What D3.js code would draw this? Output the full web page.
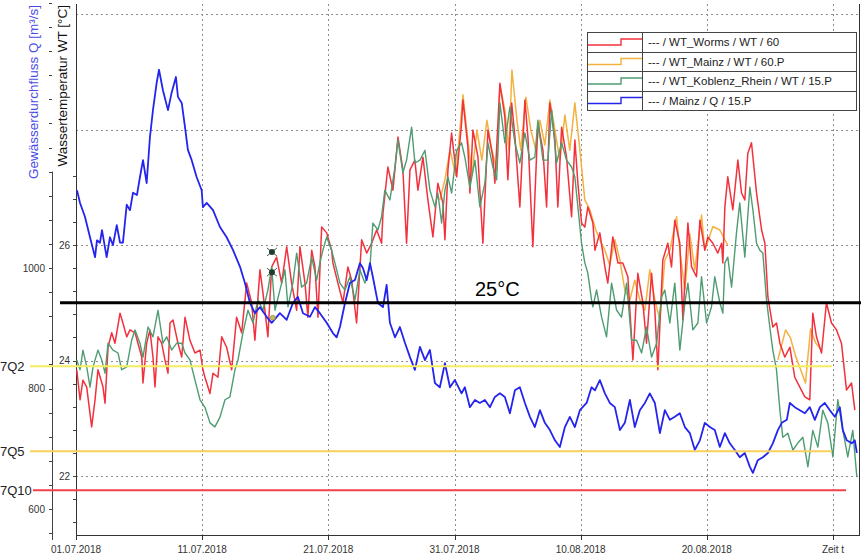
<!DOCTYPE html>
<html>
<head>
<meta charset="utf-8">
<script src="https://cdn.jsdelivr.net/npm/d3@7"></script>
<style>
  html, body { margin: 0; padding: 0; background: #fff; }
  svg { display: block; font-family: Arial, "Liberation Sans", sans-serif; }
</style>
</head>
<body>
<svg id="chart" width="867" height="558"></svg>
<script>
// Time axis: days counted from 01.07.2018 00:00
const startDate = new Date(2018, 6, 1);
const tickDates = [0, 10, 20, 30, 40, 50, 60];
const tickLabels = ["01.07.2018", "11.07.2018", "21.07.2018", "31.07.2018", "10.08.2018", "20.08.2018", "Zeit t"];

const legendLabels = [
  "--- / WT_Worms / WT / 60",
  "--- / WT_Mainz / WT / 60.P",
  "--- / WT_Koblenz_Rhein / WT / 15.P",
  "--- / Mainz / Q / 15.P"
];

// Discharge thresholds at Mainz [m³/s]
const thresholdNames = ["7Q2", "7Q5", "7Q10"];
const thresholdQ = [837, 696, 631];
// Temperature reference [°C]
const tempLimit = 25;

// Water temperature Worms [day, °C]
const wtWorms = [
[0.06,23.84],[0.32,23.32],[0.55,23.66],[0.85,23.54],[1.24,22.85],[1.51,23.32],[1.74,23.84],[2.14,23.54],[2.30,23.26],[2.54,24.23],[2.83,24.48],[3.09,24.30],[3.49,24.82],[3.72,24.65],[4.02,24.41],[4.28,24.53],[4.68,24.48],[4.91,24.30],[5.21,24.06],[5.31,23.61],[5.60,24.30],[5.86,24.53],[6.10,24.06],[6.26,23.54],[6.50,24.41],[6.79,24.30],[7.05,24.01],[7.29,23.78],[7.45,24.65],[7.69,24.70],[8.08,24.30],[8.38,24.06],[8.64,24.75],[9.03,24.35],[9.43,24.13],[9.83,24.18],[10.06,23.84],[10.22,23.71],[10.62,23.43],[10.86,23.78],[11.25,23.71],[11.55,24.41],[11.94,24.23],[12.34,23.84],[12.73,24.75],[13.13,24.48],[13.53,25.34],[13.92,25.00],[14.18,24.35],[14.58,25.57],[14.82,25.17],[15.21,24.41],[15.51,25.62],[15.90,25.79],[16.30,25.34],[16.70,25.97],[17.09,25.34],[17.49,24.87],[17.75,25.97],[18.15,25.34],[18.38,24.75],[18.68,25.91],[18.94,25.62],[19.18,24.75],[19.47,26.31],[19.87,26.21],[20.26,25.91],[20.36,25.69],[20.76,25.34],[21.16,25.00],[21.55,25.62],[21.85,25.39],[22.24,24.65],[22.64,26.09],[23.04,25.86],[23.43,26.03],[23.83,26.26],[24.22,26.03],[24.33,26.55],[24.72,27.35],[25.12,26.95],[25.52,27.87],[25.91,27.30],[26.20,26.03],[26.47,27.30],[26.86,27.47],[27.10,26.95],[27.50,27.52],[27.89,26.78],[28.29,26.14],[28.68,27.07],[29.08,26.73],[29.24,26.09],[29.48,27.30],[29.77,27.94],[30.17,27.18],[30.56,28.11],[30.67,28.51],[31.06,27.70],[31.22,26.90],[31.46,27.99],[31.86,27.52],[32.25,26.03],[32.65,27.99],[33.04,27.52],[33.20,27.07],[33.60,28.80],[33.99,28.22],[34.23,27.13],[34.53,28.46],[34.79,27.87],[35.18,26.66],[35.58,28.51],[35.82,27.87],[36.21,25.97],[36.61,28.11],[37.01,27.64],[37.30,26.66],[37.56,28.46],[37.96,27.82],[38.19,26.66],[38.49,28.04],[38.88,27.52],[39.28,26.49],[39.54,27.82],[39.78,27.07],[40.07,26.38],[40.33,26.31],[40.57,26.66],[40.97,26.38],[41.13,25.91],[41.52,26.21],[41.92,25.62],[42.15,25.34],[42.55,26.14],[42.95,25.69],[43.34,25.69],[43.74,25.45],[44.14,24.01],[44.53,25.51],[44.93,25.00],[45.22,24.30],[45.62,25.51],[45.88,24.87],[46.12,23.84],[46.51,25.74],[46.91,26.03],[47.20,25.62],[47.46,26.43],[47.86,26.03],[48.10,24.70],[48.50,26.38],[48.79,25.62],[49.18,25.45],[49.45,26.43],[49.84,25.91],[50.08,26.14],[50.48,26.03],[50.87,25.86],[51.17,26.03],[51.27,25.69],[51.43,26.66],[51.66,27.18],[52.06,26.61],[52.46,27.47],[52.75,26.90],[53.01,26.78],[53.25,27.59],[53.54,27.77],[53.94,26.90],[54.34,26.26],[54.60,26.03],[54.84,25.10],[55.23,24.58],[55.52,24.65],[55.79,24.30],[56.18,24.06],[56.58,24.23],[56.97,23.71],[57.37,23.54],[57.77,23.37],[58.16,23.32],[58.40,24.82],[58.69,24.41],[59.09,24.13],[59.48,25.00],[59.88,24.65],[60.28,24.53],[60.67,24.30],[61.07,23.49],[61.47,23.61],[61.73,23.14]
];

// Water temperature Mainz [day, °C]; null marks a gap in the record
const wtMainz = [
[28.84,26.78],[29.24,27.13],[29.64,27.64],[30.11,27.21],[30.67,28.60],[31.06,27.82],[31.38,27.21],[31.78,27.99],[32.17,27.47],[32.57,28.16],[32.96,27.64],[33.36,27.30],[33.60,28.77],[33.99,28.34],[34.31,27.64],[34.55,29.03],[34.95,28.16],[35.26,27.64],[35.66,28.56],[36.05,27.99],[36.45,27.64],[36.77,28.16],[37.16,27.73],[37.56,28.51],[37.96,27.99],[38.35,27.47],[38.75,28.25],[39.14,27.64],[39.54,28.46],[39.94,27.64],[40.33,26.78],[40.73,26.61],[41.20,26.26],[41.52,26.09],[41.92,25.91],[42.31,25.65],[42.71,26.09],[43.11,25.74],[43.50,25.22],[43.90,25.05],[44.29,25.39],[44.69,25.05],[45.09,24.87],[45.48,25.57],[45.88,25.05],[46.28,24.70],[46.67,25.74],[47.07,25.91],[47.60,26.49],[47.86,25.91],[48.26,25.22],[48.65,26.19],[49.05,25.57],[49.58,26.52],[49.84,25.91],[50.48,26.32],[51.03,26.26],[51.43,26.09],[51.66,26.00],
[51.70,null],
[55.63,24.01],[56.24,24.53],[56.63,24.39],[57.03,24.08],[57.42,23.85],[57.82,23.61],[58.22,24.55],[58.61,24.31],[59.01,24.20]
];

// Water temperature Koblenz (Rhein) [day, °C]
const wtKoblenz = [
[0.06,24.01],[0.32,23.84],[0.55,24.18],[0.85,23.89],[1.11,23.54],[1.35,23.89],[1.74,24.18],[2.04,24.01],[2.30,23.78],[2.54,24.30],[2.93,24.18],[3.33,24.13],[3.62,23.84],[4.02,23.89],[4.41,24.35],[4.68,24.53],[5.07,24.30],[5.31,24.06],[5.71,24.58],[6.10,24.41],[6.50,24.87],[6.89,24.30],[7.19,24.41],[7.58,24.18],[7.98,24.30],[8.38,24.30],[8.64,24.13],[9.03,24.01],[9.43,23.66],[9.83,23.32],[10.22,23.19],[10.62,22.92],[11.01,22.85],[11.41,23.02],[11.81,23.32],[12.20,23.37],[12.60,23.84],[12.84,24.01],[13.23,24.48],[13.63,24.87],[14.03,24.65],[14.42,25.05],[14.82,24.87],[15.21,25.22],[15.51,25.62],[15.77,24.87],[16.16,25.22],[16.56,25.57],[16.80,24.93],[17.19,25.34],[17.49,25.86],[17.88,25.27],[18.28,25.34],[18.68,25.79],[19.07,25.39],[19.33,25.69],[19.57,25.91],[19.87,26.14],[20.26,25.91],[20.52,25.69],[20.92,25.34],[21.32,25.22],[21.71,25.45],[22.11,25.05],[22.50,25.57],[22.90,25.34],[23.30,25.62],[23.53,26.38],[23.93,26.26],[24.22,26.49],[24.48,26.95],[24.88,26.78],[25.28,27.35],[25.52,27.82],[25.91,27.25],[26.20,27.47],[26.60,28.04],[26.86,27.42],[27.26,27.47],[27.66,27.64],[28.05,26.95],[28.45,26.66],[28.68,26.90],[28.98,26.38],[29.24,26.95],[29.48,27.18],[29.77,26.90],[30.17,27.64],[30.56,27.77],[30.82,27.52],[31.22,27.00],[31.62,27.47],[32.01,26.66],[32.41,27.07],[32.65,27.77],[33.04,27.35],[33.34,27.13],[33.60,28.46],[33.99,27.77],[34.39,28.39],[34.79,27.77],[35.18,27.42],[35.58,27.94],[35.98,27.47],[36.37,27.52],[36.61,28.16],[37.01,27.47],[37.40,27.47],[37.70,28.34],[38.09,27.42],[38.49,27.77],[38.88,27.47],[39.28,27.35],[39.54,27.18],[39.78,26.66],[40.07,26.03],[40.33,25.69],[40.57,25.51],[40.86,25.05],[40.97,24.93],[41.26,25.22],[41.66,24.75],[42.05,24.41],[42.45,25.34],[42.85,24.87],[43.24,24.75],[43.64,25.34],[44.03,24.35],[44.43,24.35],[44.83,24.13],[45.22,24.58],[45.62,24.06],[46.02,24.30],[46.41,25.10],[46.67,25.22],[47.07,24.65],[47.46,25.34],[47.86,24.18],[48.26,25.00],[48.50,25.34],[48.89,24.53],[49.29,24.65],[49.58,25.45],[49.98,24.65],[50.37,24.93],[50.63,25.45],[51.03,25.00],[51.27,24.82],[51.43,25.69],[51.66,25.79],[51.96,25.27],[52.35,26.21],[52.61,26.73],[53.01,25.79],[53.41,27.00],[53.65,26.61],[53.94,26.03],[54.20,25.91],[54.44,25.86],[54.73,25.05],[54.99,24.58],[55.23,24.18],[55.52,23.84],[55.79,23.14],[56.02,22.67],[56.42,22.74],[56.82,22.45],[57.21,22.57],[57.61,22.67],[58.01,22.16],[58.40,22.79],[58.80,22.50],[59.19,23.14],[59.59,22.92],[59.99,22.33],[60.38,23.32],[60.78,22.79],[61.17,22.33],[61.57,22.79],[61.89,21.98]
];

// Discharge Mainz [day, m³/s]
const qMainz = [
[0.08,1129],[0.32,1108],[0.71,1085],[1.11,1051],[1.51,1018],[1.66,1046],[1.90,1042],[2.06,1063],[2.43,1018],[2.69,1051],[2.93,1038],[3.23,1071],[3.49,1042],[3.72,1042],[4.02,1105],[4.28,1096],[4.52,1125],[4.83,1121],[5.07,1151],[5.31,1179],[5.60,1141],[5.86,1217],[6.10,1262],[6.39,1307],[6.58,1329],[6.89,1295],[7.29,1262],[7.58,1291],[7.92,1317],[8.08,1284],[8.38,1274],[8.64,1234],[8.87,1196],[9.17,1179],[9.56,1151],[9.96,1129],[10.06,1101],[10.36,1108],[10.86,1096],[11.41,1068],[11.94,1051],[12.44,1030],[13.00,1002],[13.39,975],[13.79,942],[14.18,925],[14.58,935],[15.11,919],[15.51,909],[16.16,925],[16.70,914],[17.19,942],[17.59,952],[17.99,925],[18.54,919],[18.94,935],[19.33,925],[19.87,909],[20.36,892],[20.66,885],[20.92,902],[21.32,942],[21.71,975],[22.11,980],[22.50,1008],[22.74,1000],[23.04,980],[23.30,1008],[23.53,985],[23.93,942],[24.33,935],[24.62,972],[24.88,909],[25.28,885],[25.67,902],[26.07,876],[26.47,852],[26.86,831],[27.26,869],[27.66,847],[28.05,864],[28.45,809],[28.84,802],[29.24,842],[29.64,802],[30.03,814],[30.56,792],[30.82,802],[31.22,769],[31.62,781],[32.01,776],[32.41,781],[32.81,769],[33.20,786],[33.60,792],[33.99,786],[34.39,759],[34.79,797],[35.18,802],[35.58,776],[35.98,753],[36.37,736],[36.77,764],[37.16,743],[37.56,731],[37.96,714],[38.35,703],[38.75,736],[39.14,753],[39.54,736],[39.94,764],[40.47,776],[40.86,802],[41.13,797],[41.52,814],[41.92,792],[42.31,776],[42.71,769],[43.11,731],[43.50,743],[43.90,781],[44.29,736],[44.69,764],[45.09,776],[45.48,792],[45.88,776],[46.28,726],[46.67,764],[47.07,748],[47.46,753],[47.86,759],[48.26,736],[48.65,726],[49.05,698],[49.45,714],[49.84,743],[50.24,736],[50.63,731],[51.03,703],[51.43,726],[51.82,709],[52.22,698],[52.61,686],[53.01,693],[53.41,670],[53.65,660],[54.04,681],[54.44,686],[54.84,693],[55.23,709],[55.63,731],[55.94,743],[56.34,748],[56.58,776],[56.97,769],[57.37,764],[57.77,759],[58.16,769],[58.56,748],[58.96,769],[59.35,776],[59.75,764],[60.14,753],[60.54,769],[60.78,731],[61.09,714],[61.49,709],[61.73,714],[61.89,693]
];

// Single flagged readings [day, °C]
const flagDays = [15.53, 15.53];
const flagWT = [25.88, 25.53];
const noteDays = [15.60];
const noteWT = [24.74];

// ---------------------------------------------------------------
const svg = d3.select("#chart");
const toDate = d => new Date(startDate.getTime() + d * 864e5);

const plot = { left: 76, right: 859, top: 4, bottom: 535 };
const x = d3.scaleTime()
  .domain([startDate, toDate(60)])
  .range([76, 833]);
const yT = d3.scaleLinear().domain([22, 26]).range([476, 245]);
const yQ = d3.scaleLinear().domain([600, 1000]).range([509, 268]);

const colors = {
  worms: "#f2313d",
  mainz: "#f3b13f",
  koblenz: "#4f9c72",
  q: "#2424ee"
};

svg.append("defs").append("clipPath").attr("id", "plotClip")
  .append("rect")
  .attr("x", plot.left).attr("y", plot.top)
  .attr("width", plot.right - plot.left).attr("height", plot.bottom - plot.top);

// Grid
const grid = svg.append("g").attr("stroke", "#8c8c8c").attr("stroke-width", 1)
  .attr("stroke-dasharray", "2,3");
grid.selectAll("line.v").data(tickDates).join("line")
  .attr("class", "v")
  .attr("x1", d => Math.round(x(toDate(d))) + 0.5).attr("x2", d => Math.round(x(toDate(d))) + 0.5)
  .attr("y1", plot.top).attr("y2", plot.bottom);
grid.selectAll("line.h").data([22, 24, 26, 28, 30]).join("line")
  .attr("class", "h")
  .attr("x1", plot.left).attr("x2", plot.right)
  .attr("y1", d => Math.round(yT(d)) + 0.5).attr("y2", d => Math.round(yT(d)) + 0.5);

// Frame
const frame = svg.append("g").attr("stroke", "#333").attr("stroke-width", 1).attr("fill", "none");
frame.append("line").attr("x1", plot.left + 0.5).attr("x2", plot.left + 0.5).attr("y1", plot.top).attr("y2", plot.bottom + 4);
frame.append("line").attr("x1", plot.right + 0.5).attr("x2", plot.right + 0.5).attr("y1", plot.top).attr("y2", plot.bottom);
frame.append("line").attr("x1", plot.left).attr("x2", plot.right + 1).attr("y1", plot.bottom + 0.5).attr("y2", plot.bottom + 0.5);

// Bottom axis ticks and labels
const xAxis = svg.append("g");
xAxis.selectAll("line").data(tickDates).join("line")
  .attr("x1", d => Math.round(x(toDate(d))) + 0.5).attr("x2", d => Math.round(x(toDate(d))) + 0.5)
  .attr("y1", plot.bottom).attr("y2", plot.bottom + 5)
  .attr("stroke", "#333");
xAxis.selectAll("text").data(tickDates).join("text")
  .attr("x", d => x(toDate(d)))
  .attr("y", 553)
  .attr("text-anchor", "middle")
  .attr("font-size", 10)
  .attr("fill", "#333")
  .text((d, i) => tickLabels[i]);

// Temperature axis (on the plot frame)
const tTicks = d3.range(21.2, 27.3, 0.4);
const tAxis = svg.append("g").attr("stroke", "#444");
tAxis.selectAll("line").data(tTicks).join("line")
  .attr("x1", plot.left - 3).attr("x2", plot.left)
  .attr("y1", d => Math.round(yT(d)) + 0.5).attr("y2", d => Math.round(yT(d)) + 0.5);
svg.append("g").selectAll("text").data([22, 24, 26]).join("text")
  .attr("x", plot.left - 6).attr("y", d => yT(d))
  .attr("dy", "0.35em").attr("text-anchor", "end")
  .attr("font-size", 10).attr("fill", "#333")
  .text(d => d);

// Discharge axis
const qAxisX = 52;
const qTicks = d3.range(560, 1441, 40);
const qAxis = svg.append("g").attr("stroke", "#444");
qAxis.append("line").attr("x1", qAxisX + 0.5).attr("x2", qAxisX + 0.5)
  .attr("y1", yQ(1160)).attr("y2", plot.bottom + 5);
qAxis.selectAll("line.t").data(qTicks).join("line")
  .attr("class", "t")
  .attr("x1", qAxisX - 3).attr("x2", qAxisX)
  .attr("y1", d => Math.round(yQ(d)) + 0.5).attr("y2", d => Math.round(yQ(d)) + 0.5);
svg.append("g").selectAll("text").data([600, 800, 1000]).join("text")
  .attr("x", qAxisX - 7).attr("y", d => yQ(d))
  .attr("dy", "0.35em").attr("text-anchor", "end")
  .attr("font-size", 10).attr("fill", "#333")
  .text(d => d);

// Axis titles
svg.append("rect").attr("x", 55).attr("y", 2).attr("width", 14).attr("height", 168).attr("fill", "#fff");
svg.append("text")
  .attr("transform", "translate(38,5) rotate(-90)")
  .attr("text-anchor", "end")
  .attr("font-size", 13.5)
  .attr("fill", "#4b4be8")
  .text("Gewässerdurchfluss Q [m³/s]");
svg.append("text")
  .attr("transform", "translate(67,5) rotate(-90)")
  .attr("text-anchor", "end")
  .attr("font-size", 13.5)
  .attr("fill", "#111")
  .text("Wassertemperatur WT [°C]");

// Series
const series = svg.append("g").attr("clip-path", "url(#plotClip)").attr("fill", "none")
  .attr("stroke-linejoin", "round");
const lineT = d3.line().defined(d => d[1] != null).x(d => x(toDate(d[0]))).y(d => yT(d[1]));
const lineQ = d3.line().x(d => x(toDate(d[0]))).y(d => yQ(d[1]));

series.append("path").datum(wtMainz).attr("d", lineT).attr("stroke", colors.mainz).attr("stroke-width", 1.5);
series.append("path").datum(wtWorms).attr("d", lineT).attr("stroke", colors.worms).attr("stroke-width", 1.5);
series.append("path").datum(wtKoblenz).attr("d", lineT).attr("stroke", colors.koblenz).attr("stroke-width", 1.4);
series.append("path").datum(qMainz).attr("d", lineQ).attr("stroke", colors.q).attr("stroke-width", 1.8);

// Flagged readings
const flags = svg.append("g");
flagDays.forEach((d, i) => {
  const cx = x(toDate(d)), cy = yT(flagWT[i]);
  const g = flags.append("g").attr("transform", `translate(${cx},${cy})`).attr("stroke", "#555").attr("stroke-width", 1);
  g.append("line").attr("x1", -5).attr("x2", 5).attr("y1", -4).attr("y2", 4);
  g.append("line").attr("x1", -5).attr("x2", 5).attr("y1", 4).attr("y2", -4);
  g.append("circle").attr("r", 3).attr("fill", "#1f3d2c").attr("stroke", "none");
});
noteDays.forEach((d, i) => {
  flags.append("circle")
    .attr("cx", x(toDate(d))).attr("cy", yT(noteWT[i]))
    .attr("r", 2.5).attr("fill", "#c8c040").attr("stroke", "#777").attr("stroke-width", 0.6);
});

// Threshold lines (discharge)
const thrStyle = [
  { color: "#f4ee5e", x1: 30, x2: 832 },
  { color: "#f7cf5c", x1: 30, x2: 832 },
  { color: "#f2404c", x1: 33, x2: 846 }
];
const thr = svg.append("g");
thresholdQ.forEach((q, i) => {
  thr.append("line")
    .attr("x1", thrStyle[i].x1).attr("x2", thrStyle[i].x2)
    .attr("y1", yQ(q)).attr("y2", yQ(q))
    .attr("stroke", thrStyle[i].color).attr("stroke-width", 2);
  thr.append("text")
    .attr("x", 0).attr("y", yQ(q) + 5)
    .attr("font-size", 13).attr("fill", "#222")
    .text(thresholdNames[i]);
});

// 25 °C reference
svg.append("line")
  .attr("x1", 60).attr("x2", plot.right + 2)
  .attr("y1", yT(tempLimit)).attr("y2", yT(tempLimit))
  .attr("stroke", "#000").attr("stroke-width", 3);
svg.append("text")
  .attr("x", 475).attr("y", yT(tempLimit) - 7)
  .attr("font-size", 20).attr("fill", "#000")
  .text(tempLimit + "°C");

// Legend
const lg = { x: 587, y: 32, w: 269, rowH: 19.5, col: 55 };
const legendColors = [colors.worms, colors.mainz, colors.koblenz, colors.q];
const legend = svg.append("g");
legend.append("rect")
  .attr("x", lg.x + 0.5).attr("y", lg.y + 0.5)
  .attr("width", lg.w).attr("height", lg.rowH * 4)
  .attr("fill", "#fff").attr("stroke", "#444");
legendLabels.forEach((label, i) => {
  const top = lg.y + i * lg.rowH;
  if (i > 0) {
    legend.append("line")
      .attr("x1", lg.x).attr("x2", lg.x + lg.w)
      .attr("y1", Math.round(top) + 0.5).attr("y2", Math.round(top) + 0.5)
      .attr("stroke", "#444");
  }
  legend.append("path")
    .attr("d", `M${lg.x + 1},${top + 13} H${lg.x + 34} V${top + 7} H${lg.x + lg.col}`)
    .attr("fill", "none").attr("stroke", legendColors[i]).attr("stroke-width", 1.4);
  legend.append("text")
    .attr("x", lg.x + lg.col + 6).attr("y", top + 14)
    .attr("font-size", 11.5).attr("fill", "#222")
    .text(label);
});
legend.append("line")
  .attr("x1", lg.x + lg.col + 0.5).attr("x2", lg.x + lg.col + 0.5)
  .attr("y1", lg.y).attr("y2", lg.y + lg.rowH * 4)
  .attr("stroke", "#444");
</script>
</body>
</html>
